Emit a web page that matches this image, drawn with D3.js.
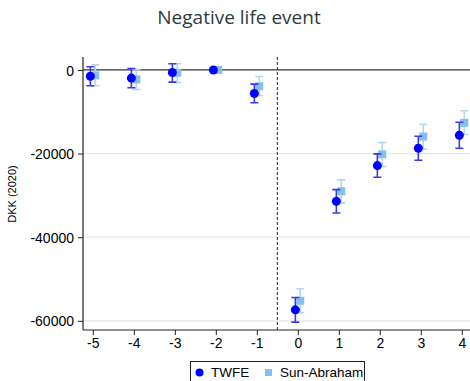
<!DOCTYPE html>
<html>
<head>
<meta charset="utf-8">
<script src="https://cdn.jsdelivr.net/npm/d3@7"></script>
<style>
  body { margin: 0; background: #fff; }
  svg { display: block; }
</style>
</head>
<body>
<div id="chart"></div>
<script>
const periods = [-5, -4, -3, -2, -1, 0, 1, 2, 3, 4];

// TWFE estimates with 95% CI
const twfe = [-1500, -1950, -600, 0, -5630, -57370, -31430, -22870, -18730, -15610];
const twfeLo = [-3780, -4260, -2920, 0, -7860, -60320, -34200, -25680, -21600, -18730];
const twfeHi = [770, 360, 1490, 0, -3400, -54420, -28620, -20070, -15860, -12500];

// Sun-Abraham estimates with 95% CI
const sunab = [-1300, -2270, -670, 0, -3880, -55210, -29030, -20170, -15930, -12650];
const sunabLo = [-3780, -4670, -2990, 0, -6110, -58080, -31800, -23110, -18970, -15450];
const sunabHi = [1250, 120, 1490, 0, -1560, -52340, -26300, -17370, -12980, -9770];

const yTicks = [0, -20000, -40000, -60000];
const title = "Negative life event";
const yLabel = "DKK (2020)";
const seriesNames = ["TWFE", "Sun-Abraham"];

const width = 470, height = 381;
const margin = { top: 57, right: 0, bottom: 51, left: 83 };

const colors = {
  twfe: "#0000ff",
  twfeCi: "#3a3ae8",
  sunab: "#86bfe8",
  sunabCi: "#b3d6f0"
};

const plain = (d) => String(d); // keep ascii hyphen like the original

const svg = d3.select("#chart")
  .append("svg")
  .attr("width", width)
  .attr("height", height);

const xScale = d3.scaleLinear()
  .domain([-5.24, 4.2])
  .range([margin.left, width - margin.right]);

const yScale = d3.scaleLinear()
  .domain([-62200, 3100])
  .range([height - margin.bottom, margin.top]);

// title
svg.append("text")
  .attr("x", 239)
  .attr("y", 24)
  .attr("text-anchor", "middle")
  .attr("font-family", "'Open Sans', sans-serif")
  .attr("font-size", 19)
  .attr("fill", "#2b3c3e")
  .text(title);

// horizontal gridlines
svg.append("g")
  .selectAll("line")
  .data(yTicks.filter((d) => d !== 0))
  .join("line")
  .attr("x1", margin.left)
  .attr("x2", width)
  .attr("y1", (d) => yScale(d))
  .attr("y2", (d) => yScale(d))
  .attr("stroke", "#e6e6e6")
  .attr("stroke-width", 1.2);

// zero line
svg.append("line")
  .attr("x1", margin.left)
  .attr("x2", width)
  .attr("y1", yScale(0))
  .attr("y2", yScale(0))
  .attr("stroke", "#333")
  .attr("stroke-width", 1.2);

// treatment line
svg.append("line")
  .attr("x1", xScale(-0.5))
  .attr("x2", xScale(-0.5))
  .attr("y1", margin.top)
  .attr("y2", height - margin.bottom)
  .attr("stroke", "#222")
  .attr("stroke-width", 1)
  .attr("stroke-dasharray", "3,2");

// Y axis
svg.append("g")
  .attr("transform", `translate(${margin.left},0)`)
  .call(d3.axisLeft(yScale).tickValues(yTicks).tickSize(5).tickPadding(4).tickFormat(plain))
  .call((g) => g.select(".domain").attr("d", `M0,${margin.top}V${height - margin.bottom}`).attr("stroke", "#222").attr("stroke-width", 1.2))
  .call((g) => g.selectAll(".tick line").attr("stroke", "#222"))
  .call((g) => g.selectAll(".tick text")
    .attr("font-family", "'Liberation Sans', Arial, sans-serif")
    .attr("font-size", 14)
    .attr("dy", "0.36em")
    .attr("fill", "#000"));

// X axis
svg.append("g")
  .attr("transform", `translate(0,${height - margin.bottom})`)
  .call(d3.axisBottom(xScale).tickValues(periods).tickSize(5).tickPadding(3).tickFormat(plain))
  .call((g) => g.select(".domain").attr("d", `M${margin.left},0H${width}`).attr("stroke", "#222").attr("stroke-width", 1.2))
  .call((g) => g.selectAll(".tick line").attr("stroke", "#222"))
  .call((g) => g.selectAll(".tick text")
    .attr("font-family", "'Liberation Sans', Arial, sans-serif")
    .attr("font-size", 14)
    .attr("fill", "#000"));

// y label
svg.append("text")
  .attr("transform", `translate(16,194) rotate(-90)`)
  .attr("text-anchor", "middle")
  .attr("font-family", "'Liberation Sans', Arial, sans-serif")
  .attr("font-size", 11)
  .attr("fill", "#000")
  .text(yLabel);

function drawSeries(est, lo, hi, offset, color, ciColor, shape) {
  const g = svg.append("g");
  const rows = periods.map((p, i) => ({ p, est: est[i], lo: lo[i], hi: hi[i] }));
  const withCi = rows.filter((d) => d.lo !== d.hi);

  g.selectAll(".ci")
    .data(withCi)
    .join("path")
    .attr("d", (d) => {
      const x = xScale(d.p + offset);
      const y1 = yScale(d.lo), y2 = yScale(d.hi);
      return `M${x - 4},${y1}H${x + 4}M${x},${y1}V${y2}M${x - 4},${y2}H${x + 4}`;
    })
    .attr("fill", "none")
    .attr("stroke", ciColor)
    .attr("stroke-width", 1.6);

  if (shape === "circle") {
    g.selectAll(".pt")
      .data(rows)
      .join("circle")
      .attr("cx", (d) => xScale(d.p + offset))
      .attr("cy", (d) => yScale(d.est))
      .attr("r", 4.5)
      .attr("fill", color);
  } else {
    g.selectAll(".pt")
      .data(rows)
      .join("rect")
      .attr("x", (d) => xScale(d.p + offset) - 4)
      .attr("y", (d) => yScale(d.est) - 4)
      .attr("width", 8)
      .attr("height", 8)
      .attr("fill", color);
  }
}

drawSeries(sunab, sunabLo, sunabHi, 0.06, colors.sunab, colors.sunabCi, "square");
drawSeries(twfe, twfeLo, twfeHi, -0.06, colors.twfe, colors.twfeCi, "circle");

// legend
const legend = svg.append("g").attr("transform", "translate(190,361)");
legend.append("rect")
  .attr("x", 0.5)
  .attr("y", 0.5)
  .attr("width", 174)
  .attr("height", 30)
  .attr("fill", "#fff")
  .attr("stroke", "#222")
  .attr("stroke-width", 1);
legend.append("circle")
  .attr("cx", 9.5)
  .attr("cy", 11.5)
  .attr("r", 4)
  .attr("fill", colors.twfe);
legend.append("text")
  .attr("x", 21)
  .attr("y", 16)
  .attr("font-family", "'Liberation Sans', Arial, sans-serif")
  .attr("font-size", 13.5)
  .text(seriesNames[0]);
legend.append("rect")
  .attr("x", 75)
  .attr("y", 8)
  .attr("width", 7)
  .attr("height", 7)
  .attr("fill", colors.sunab);
legend.append("text")
  .attr("x", 90)
  .attr("y", 16)
  .attr("font-family", "'Liberation Sans', Arial, sans-serif")
  .attr("font-size", 13.5)
  .text(seriesNames[1]);
</script>
</body>
</html>
